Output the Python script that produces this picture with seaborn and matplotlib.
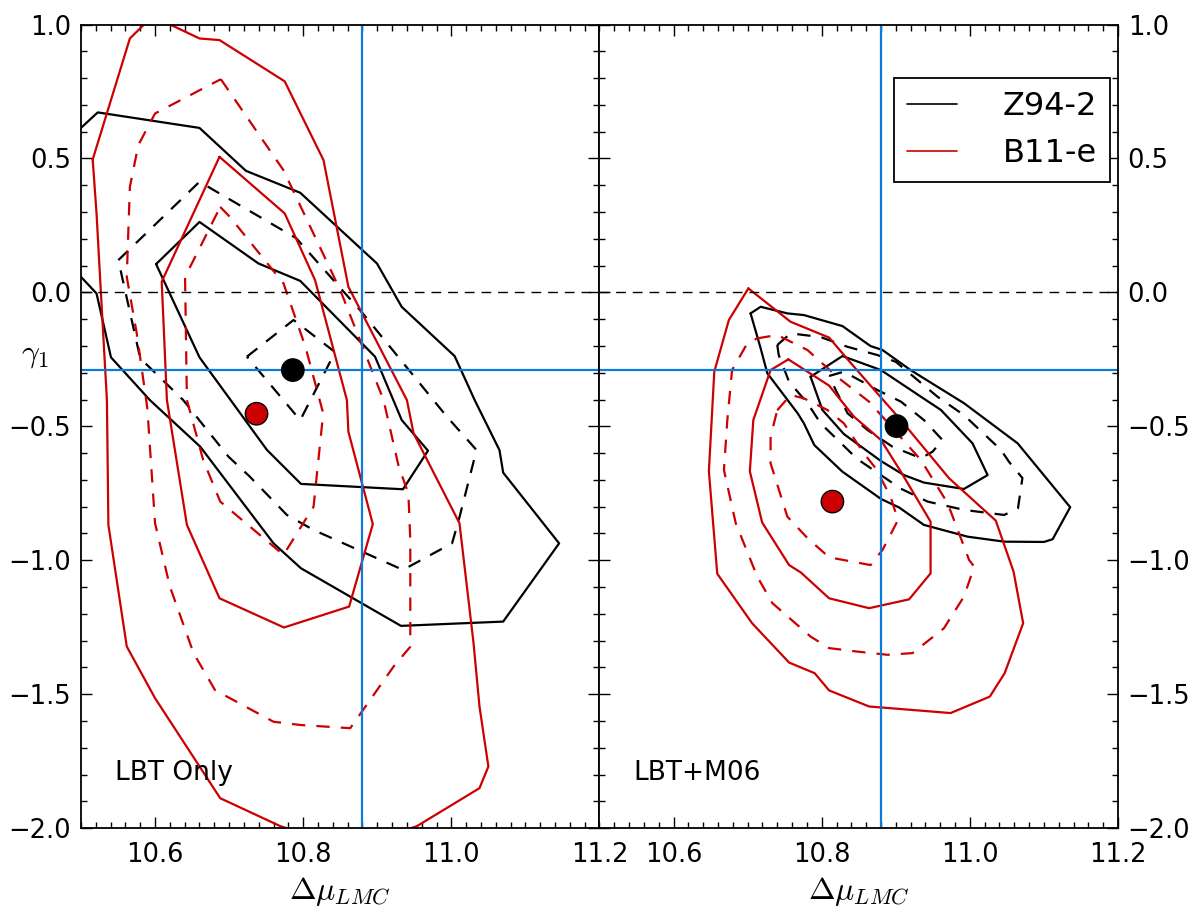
import matplotlib
matplotlib.use("Agg")
import matplotlib.pyplot as plt
import seaborn as sns
from matplotlib.lines import Line2D
from matplotlib.ticker import MultipleLocator

# reference lines
mu_ref = 10.88
gamma_ref = -0.29

# best-fit points
lbt_best_x = [10.786, 10.737]
lbt_best_y = [-0.29, -0.453]
m06_best_x = [10.901, 10.8145]
m06_best_y = [-0.499, -0.781]

# ---- LBT only: Z94-2 (black) ----
z94_lbt_1_x = [10.48, 10.5226, 10.66, 10.7226, 10.796, 10.8996, 10.933, 11.0045, 11.0315, 11.065, 11.07,
               11.1455, 11.07, 10.932, 10.797, 10.76, 10.661, 10.593, 10.5405, 10.521, 10.48]
z94_lbt_1_y = [0.563, 0.672, 0.614, 0.454, 0.372, 0.108, -0.054, -0.238, -0.402, -0.589, -0.673,
               -0.937, -1.229, -1.245, -1.030, -0.937, -0.576, -0.402, -0.2425, -0.004, 0.117]
z94_lbt_2_x = [10.6014, 10.66, 10.7396, 10.796, 10.897, 10.933, 10.9685, 10.9347, 10.797, 10.751, 10.66]
z94_lbt_2_y = [0.1056, 0.263, 0.108, 0.043, -0.240, -0.4765, -0.591, -0.735, -0.715, -0.588, -0.2425]
z94_lbt_3_x = [10.5504, 10.66, 10.7905, 10.879, 10.994, 11.034, 11.01, 11.001, 10.9347, 10.814, 10.778,
               10.728, 10.699, 10.638, 10.58]
z94_lbt_3_y = [0.1205, 0.413, 0.2026, -0.0735, -0.464, -0.5885, -0.85, -0.9366, -1.036, -0.887, -0.831,
               -0.688, -0.613, -0.402, -0.246]
z94_lbt_4_x = [10.724, 10.787, 10.843, 10.796]
z94_lbt_4_y = [-0.240, -0.103, -0.223, -0.477]

# ---- LBT only: B11-e (red) ----
b11_lbt_1_x = [10.5158, 10.521, 10.5257, 10.535, 10.537, 10.5618, 10.6, 10.688, 10.769, 10.8635, 10.9536,
               11.038, 11.050, 11.038, 11.030, 11.011, 10.949, 10.94, 10.861, 10.8274, 10.775, 10.687,
               10.66, 10.6226, 10.603, 10.584, 10.566]
b11_lbt_1_y = [0.496, 0.295, 0.058, -0.402, -0.868, -1.322, -1.515, -1.8885, -1.9925, -2.08, -1.9925,
               -1.851, -1.770, -1.546, -1.310, -0.862, -0.526, -0.402, 0.021, 0.494, 0.788, 0.942,
               0.948, 0.997, 1.046, 0.997, 0.948]
b11_lbt_2_x = [10.687, 10.775, 10.816, 10.859, 10.861, 10.894, 10.862, 10.774, 10.687, 10.643, 10.616, 10.609]
b11_lbt_2_y = [0.506, 0.295, 0.046, -0.402, -0.520, -0.865, -1.173, -1.251, -1.142, -0.868, -0.402, 0.040]
b11_lbt_3_x = [10.6888, 10.7734, 10.85, 10.9085, 10.929, 10.942, 10.9446, 10.9446, 10.922, 10.8635, 10.796,
               10.76, 10.681, 10.652, 10.620, 10.6, 10.5896, 10.5753, 10.5618, 10.566, 10.5774, 10.6]
b11_lbt_3_y = [0.796, 0.456, 0.0086, -0.402, -0.651, -0.75, -0.925, -1.323, -1.397, -1.627, -1.615,
               -1.603, -1.485, -1.347, -1.098, -0.862, -0.433, -0.153, 0.058, 0.394, 0.55, 0.668]
b11_lbt_4_x = [10.688, 10.701, 10.7734, 10.803, 10.827, 10.814, 10.7734, 10.688, 10.665, 10.643, 10.6405, 10.661]
b11_lbt_4_y = [0.319, 0.282, 0.0336, -0.203, -0.4515, -0.80, -0.980, -0.781, -0.626, -0.402, 0.058, 0.170]

# ---- LBT+M06: Z94-2 (black) ----
z94_m06_1_x = [10.704, 10.7176, 10.7536, 10.776, 10.828, 10.866, 10.882, 10.92, 10.9923, 11.0645, 11.1355,
               11.1118, 11.100, 11.0464, 10.997, 10.938, 10.9045, 10.88, 10.828, 10.79, 10.776, 10.7676,
               10.7266, 10.7176]
z94_m06_1_y = [-0.0784, -0.0537, -0.0784, -0.0847, -0.1257, -0.2004, -0.215, -0.29, -0.414, -0.5634, -0.802,
               -0.9216, -0.9317, -0.9306, -0.912, -0.868, -0.803, -0.771, -0.6694, -0.570, -0.489, -0.4515,
               -0.302, -0.209]
z94_m06_2_x = [10.785, 10.828, 10.88, 10.934, 10.961, 11.0036, 11.024, 10.992, 10.938, 10.911, 10.88, 10.830, 10.801]
z94_m06_2_y = [-0.315, -0.2377, -0.29, -0.3896, -0.439, -0.5634, -0.682, -0.734, -0.710, -0.682, -0.6295, -0.529, -0.439]
z94_m06_3_x = [10.740, 10.758, 10.7986, 10.8347, 10.8753, 10.900, 10.9564, 10.992, 11.042, 11.053, 11.071,
               11.065, 11.0464, 10.992, 10.943, 10.907, 10.848, 10.7986, 10.781, 10.756, 10.742]
z94_m06_3_y = [-0.1966, -0.153, -0.1668, -0.203, -0.234, -0.259, -0.3896, -0.458, -0.588, -0.633, -0.693,
               -0.806, -0.831, -0.812, -0.781, -0.733, -0.622, -0.489, -0.414, -0.334, -0.234]
z94_m06_4_x = [10.81, 10.830, 10.8753, 10.907, 10.938, 10.963, 10.9496, 10.934, 10.8955, 10.862, 10.835, 10.819]
z94_m06_4_y = [-0.312, -0.296, -0.3646, -0.408, -0.4765, -0.551, -0.595, -0.619, -0.576, -0.514, -0.4515, -0.3646]

# ---- LBT+M06: B11-e (red) ----
b11_m06_1_x = [10.701, 10.758, 10.81, 10.8436, 10.9068, 10.972, 11.035, 11.059, 11.072, 11.047, 11.027,
               10.974, 10.864, 10.81, 10.7905, 10.756, 10.706, 10.659, 10.6477, 10.655, 10.6747]
b11_m06_1_y = [0.0149, -0.1097, -0.1687, -0.2776, -0.4765, -0.694, -0.852, -1.042, -1.235, -1.4216, -1.509,
               -1.5705, -1.546, -1.486, -1.4216, -1.382, -1.235, -1.0504, -0.6679, -0.296, -0.103]
b11_m06_2_x = [10.755, 10.81, 10.8436, 10.88, 10.9068, 10.947, 10.947, 10.918, 10.864, 10.81, 10.772,
               10.756, 10.7196, 10.703, 10.7077, 10.731]
b11_m06_2_y = [-0.25, -0.348, -0.464, -0.551, -0.669, -0.856, -1.049, -1.146, -1.179, -1.142, -1.046,
               -1.018, -0.859, -0.6679, -0.4765, -0.29]
b11_m06_3_x = [10.713, 10.740, 10.7807, 10.8234, 10.864, 10.934, 10.97, 10.999, 11.006, 10.992, 10.965,
               10.9226, 10.889, 10.848, 10.81, 10.785, 10.7334, 10.713, 10.684, 10.668, 10.6726, 10.679, 10.6996]
b11_m06_3_y = [-0.1716, -0.159, -0.215, -0.321, -0.408, -0.626, -0.787, -0.999, -1.024, -1.136, -1.254,
               -1.3466, -1.353, -1.341, -1.328, -1.285, -1.160, -1.061, -0.862, -0.663, -0.4765, -0.29, -0.19]
b11_m06_4_x = [10.740, 10.758, 10.776, 10.8077, 10.830, 10.857, 10.873, 10.893, 10.903, 10.882, 10.866,
               10.81, 10.781, 10.7536, 10.731, 10.731]
b11_m06_4_y = [-0.440, -0.383, -0.3955, -0.439, -0.489, -0.601, -0.657, -0.763, -0.850, -0.962, -1.018,
               -0.989, -0.918, -0.837, -0.638, -0.539]

black = 'black'
red = '#cc0000'
blue = '#0a7bd6'
dash = (0, (6, 5))

sns.set_style("ticks")
plt.rcParams['font.family'] = ['DejaVu Sans']
plt.rcParams['mathtext.fontset'] = 'cm'
for key in ['text.color', 'axes.labelcolor', 'xtick.color', 'ytick.color', 'axes.edgecolor']:
    plt.rcParams[key] = 'black'


def contour(ax, xs, ys, color, ls='-'):
    # close the ring and draw it in the given order
    sns.lineplot(x=list(xs) + [xs[0]], y=list(ys) + [ys[0]], sort=False, estimator=None,
                 color=color, linewidth=1.6, linestyle=ls, ax=ax)


fig, (ax1, ax2) = plt.subplots(1, 2, figsize=(11.98, 9.09), dpi=100, sharey=True)
fig.subplots_adjust(left=0.0676, right=0.9332, top=0.973, bottom=0.089, wspace=0)

panels = [
    (ax1, [(z94_lbt_1_x, z94_lbt_1_y, black, '-'), (z94_lbt_2_x, z94_lbt_2_y, black, '-'),
           (z94_lbt_3_x, z94_lbt_3_y, black, dash), (z94_lbt_4_x, z94_lbt_4_y, black, dash),
           (b11_lbt_1_x, b11_lbt_1_y, red, '-'), (b11_lbt_2_x, b11_lbt_2_y, red, '-'),
           (b11_lbt_3_x, b11_lbt_3_y, red, dash), (b11_lbt_4_x, b11_lbt_4_y, red, dash)],
     lbt_best_x, lbt_best_y, 'LBT Only'),
    (ax2, [(z94_m06_1_x, z94_m06_1_y, black, '-'), (z94_m06_2_x, z94_m06_2_y, black, '-'),
           (z94_m06_3_x, z94_m06_3_y, black, dash), (z94_m06_4_x, z94_m06_4_y, black, dash),
           (b11_m06_1_x, b11_m06_1_y, red, '-'), (b11_m06_2_x, b11_m06_2_y, red, '-'),
           (b11_m06_3_x, b11_m06_3_y, red, dash), (b11_m06_4_x, b11_m06_4_y, red, dash)],
     m06_best_x, m06_best_y, 'LBT+M06'),
]

for ax, rings, bx, by, label in panels:
    for xs, ys, c, ls in rings:
        contour(ax, xs, ys, c, ls)
    ax.axhline(0, color='black', lw=1, linestyle=(0, (7, 5)))
    ax.axvline(mu_ref, color=blue, lw=1.6)
    ax.axhline(gamma_ref, color=blue, lw=1.6)
    sns.scatterplot(x=bx, y=by, hue=['Z94-2', 'B11-e'], palette=[black, red], s=260,
                    edgecolor='black', linewidth=1, legend=False, zorder=5, ax=ax)
    ax.text(0.066, 0.06, label, transform=ax.transAxes, fontsize=19)
    ax.set_xlim(10.5, 11.2)
    ax.set_ylim(-2.0, 1.0)
    ax.xaxis.set_major_locator(MultipleLocator(0.2))
    ax.xaxis.set_minor_locator(MultipleLocator(0.02))
    ax.yaxis.set_major_locator(MultipleLocator(0.5))
    ax.yaxis.set_minor_locator(MultipleLocator(0.1))
    ax.tick_params(which='both', direction='in', top=True, right=True, left=True, bottom=True,
                   labelsize=18.5, width=1)
    ax.tick_params(which='major', length=8)
    ax.tick_params(which='minor', length=4)
    ax.tick_params(axis='x', which='major', pad=10)
    ax.tick_params(axis='y', which='major', pad=7)
    ax.set_xlabel(r'$\Delta\mu_{LMC}$', fontsize=23, labelpad=5)
    for sp in ax.spines.values():
        sp.set_linewidth(1.3)

ax1.set_ylabel(r'$\gamma_1$', fontsize=23, rotation=0)
ax1.yaxis.set_label_coords(-0.088, 0.57)
ax2.tick_params(labelleft=False, labelright=True)
ax2.yaxis.set_label_position('right')
ax2.set_ylabel(r'$\gamma_1$', fontsize=23, rotation=0)
ax2.yaxis.set_label_coords(1.082, 0.57)

handles = [Line2D([], [], color=black, lw=1.2), Line2D([], [], color=red, lw=1.2)]
leg = ax2.legend(handles, ['Z94-2', 'B11-e'], loc='upper right', bbox_to_anchor=(0.985, 0.933),
                 borderaxespad=0, fontsize=23, fancybox=False, edgecolor='black', framealpha=1,
                 handlelength=1.55, handletextpad=1.45, borderpad=0.4)
leg.get_frame().set_linewidth(1.3)

fig.savefig('out.png', dpi=100)
